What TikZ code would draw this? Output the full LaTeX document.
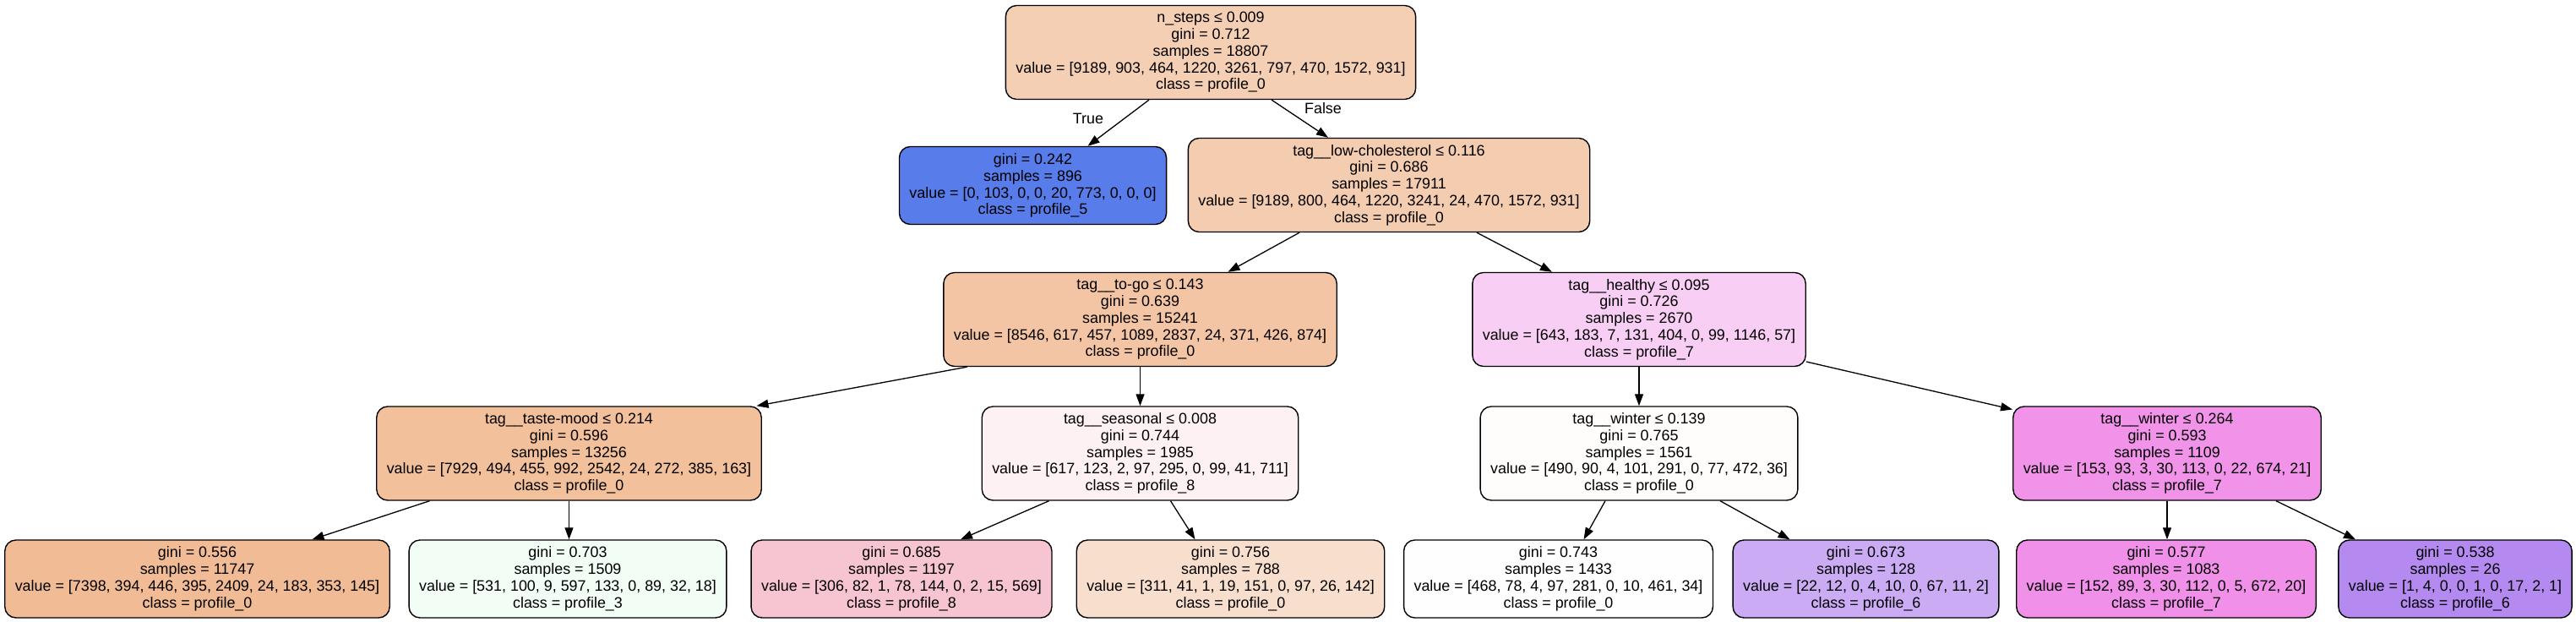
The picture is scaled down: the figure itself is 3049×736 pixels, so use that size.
\documentclass[tikz,border=0pt]{standalone}
\usepackage{fontspec}
\setmainfont{Liberation Sans}
\usetikzlibrary{arrows.meta}
\definecolor{cRoot}{RGB}{245,207,180}
\definecolor{cBlue}{RGB}{88,124,233}
\definecolor{cLow}{RGB}{244,204,175}
\definecolor{cTogo}{RGB}{243,197,164}
\definecolor{cHealthy}{RGB}{249,206,245}
\definecolor{cTaste}{RGB}{242,192,155}
\definecolor{cSeason}{RGB}{253,241,244}
\definecolor{cWinA}{RGB}{255,253,252}
\definecolor{cWinB}{RGB}{241,147,233}
\definecolor{cLa}{RGB}{241,188,149}
\definecolor{cLb}{RGB}{242,253,246}
\definecolor{cLc}{RGB}{247,197,209}
\definecolor{cLd}{RGB}{248,223,205}
\definecolor{cLe}{RGB}{255,254,254}
\definecolor{cLf}{RGB}{202,171,244}
\definecolor{cLg}{RGB}{240,144,233}
\definecolor{cLh}{RGB}{181,138,240}
\tikzset{
  tnode/.style={draw=black, line width=1.4pt, rounded corners=13pt, align=center,
    font=\fontsize{17.9}{19.8}\selectfont, inner xsep=12pt, inner ysep=0pt},
  five/.style={tnode, minimum height=111pt},
  four/.style={tnode, minimum height=92pt},
  edge/.style={line width=1.3pt, -{Triangle[length=14pt,width=10pt]}},
  elabel/.style={font=\fontsize{17.9}{19.8}\selectfont, inner sep=0pt}
}
\begin{document}
\begin{tikzpicture}[x=1pt,y=-1pt]
\useasboundingbox (0,0) rectangle (3049,736);
\fill[white] (0,0) rectangle (3049,736);

\node[five, fill=cRoot] (root) at (1433,62) {n\_steps ≤ 0.009\\gini = 0.712\\samples = 18807\\value = [9189, 903, 464, 1220, 3261, 797, 470, 1572, 931]\\class = profile\_0};

\node[four, fill=cBlue] (blue) at (1222.5,219.5) {gini = 0.242\\samples = 896\\value = [0, 103, 0, 0, 20, 773, 0, 0, 0]\\class = profile\_5};
\node[five, fill=cLow] (low) at (1644,219) {tag\_\_low-cholesterol ≤ 0.116\\gini = 0.686\\samples = 17911\\value = [9189, 800, 464, 1220, 3241, 24, 470, 1572, 931]\\class = profile\_0};

\node[five, fill=cTogo] (togo) at (1349.5,378) {tag\_\_to-go ≤ 0.143\\gini = 0.639\\samples = 15241\\value = [8546, 617, 457, 1089, 2837, 24, 371, 426, 874]\\class = profile\_0};
\node[five, fill=cHealthy] (healthy) at (1940,378) {tag\_\_healthy ≤ 0.095\\gini = 0.726\\samples = 2670\\value = [643, 183, 7, 131, 404, 0, 99, 1146, 57]\\class = profile\_7};

\node[five, fill=cTaste] (taste) at (673.5,536.5) {tag\_\_taste-mood ≤ 0.214\\gini = 0.596\\samples = 13256\\value = [7929, 494, 455, 992, 2542, 24, 272, 385, 163]\\class = profile\_0};
\node[five, fill=cSeason] (season) at (1349.5,536.5) {tag\_\_seasonal ≤ 0.008\\gini = 0.744\\samples = 1985\\value = [617, 123, 2, 97, 295, 0, 99, 41, 711]\\class = profile\_8};
\node[five, fill=cWinA] (wina) at (1940,536.5) {tag\_\_winter ≤ 0.139\\gini = 0.765\\samples = 1561\\value = [490, 90, 4, 101, 291, 0, 77, 472, 36]\\class = profile\_0};
\node[five, fill=cWinB] (winb) at (2565,536.5) {tag\_\_winter ≤ 0.264\\gini = 0.593\\samples = 1109\\value = [153, 93, 3, 30, 113, 0, 22, 674, 21]\\class = profile\_7};

\node[four, fill=cLa] (la) at (233.5,685) {gini = 0.556\\samples = 11747\\value = [7398, 394, 446, 395, 2409, 24, 183, 353, 145]\\class = profile\_0};
\node[four, fill=cLb] (lb) at (672,685) {gini = 0.703\\samples = 1509\\value = [531, 100, 9, 597, 133, 0, 89, 32, 18]\\class = profile\_3};
\node[four, fill=cLc] (lc) at (1067,685) {gini = 0.685\\samples = 1197\\value = [306, 82, 1, 78, 144, 0, 2, 15, 569]\\class = profile\_8};
\node[four, fill=cLd] (ld) at (1456.5,685) {gini = 0.756\\samples = 788\\value = [311, 41, 1, 19, 151, 0, 97, 26, 142]\\class = profile\_0};
\node[four, fill=cLe] (le) at (1844.5,685) {gini = 0.743\\samples = 1433\\value = [468, 78, 4, 97, 281, 0, 10, 461, 34]\\class = profile\_0};
\node[four, fill=cLf] (lf) at (2208.5,685) {gini = 0.673\\samples = 128\\value = [22, 12, 0, 4, 10, 0, 67, 11, 2]\\class = profile\_6};
\node[four, fill=cLg] (lg) at (2564,685) {gini = 0.577\\samples = 1083\\value = [152, 89, 3, 30, 112, 0, 5, 672, 20]\\class = profile\_7};
\node[four, fill=cLh] (lh) at (2906,685) {gini = 0.538\\samples = 26\\value = [1, 4, 0, 0, 1, 0, 17, 2, 1]\\class = profile\_6};

\draw[edge] ([xshift=-73]root.south) -- ([xshift=65]blue.north);
\draw[edge] ([xshift=72]root.south) -- ([xshift=-72]low.north);
\draw[edge] ([xshift=-106]low.south) -- ([xshift=104]togo.north);
\draw[edge] ([xshift=104]low.south) -- ([xshift=-103]healthy.north);
\draw[edge] ([xshift=-205]togo.south) -- ([xshift=222]taste.north);
\draw[edge] (togo.south) -- (togo.south |- season.north);
\draw[edge] (healthy.south) -- (healthy.south |- wina.north);
\draw[edge] ([yshift=-50]healthy.east) -- ([yshift=52]winb.west);
\draw[edge] ([xshift=-165]taste.south) -- ([xshift=136]la.north);
\draw[edge] (taste.south) -- (taste.south |- lb.north);
\draw[edge] ([xshift=-108]season.south) -- ([xshift=70]lc.north);
\draw[edge] ([xshift=36]season.south) -- ([xshift=-42]ld.north);
\draw[edge] ([xshift=-40]wina.south) -- ([xshift=30]le.north);
\draw[edge] ([xshift=96]wina.south) -- ([xshift=-90]lf.north);
\draw[edge] (winb.south) -- (winb.south |- lg.north);
\draw[edge] ([xshift=129]winb.south) -- ([xshift=-118]lh.north);

\node[elabel] (ltrue) at (1288,140) {True};
\node[elabel] (lfalse) at (1566,128) {False};
\end{tikzpicture}
\end{document}
